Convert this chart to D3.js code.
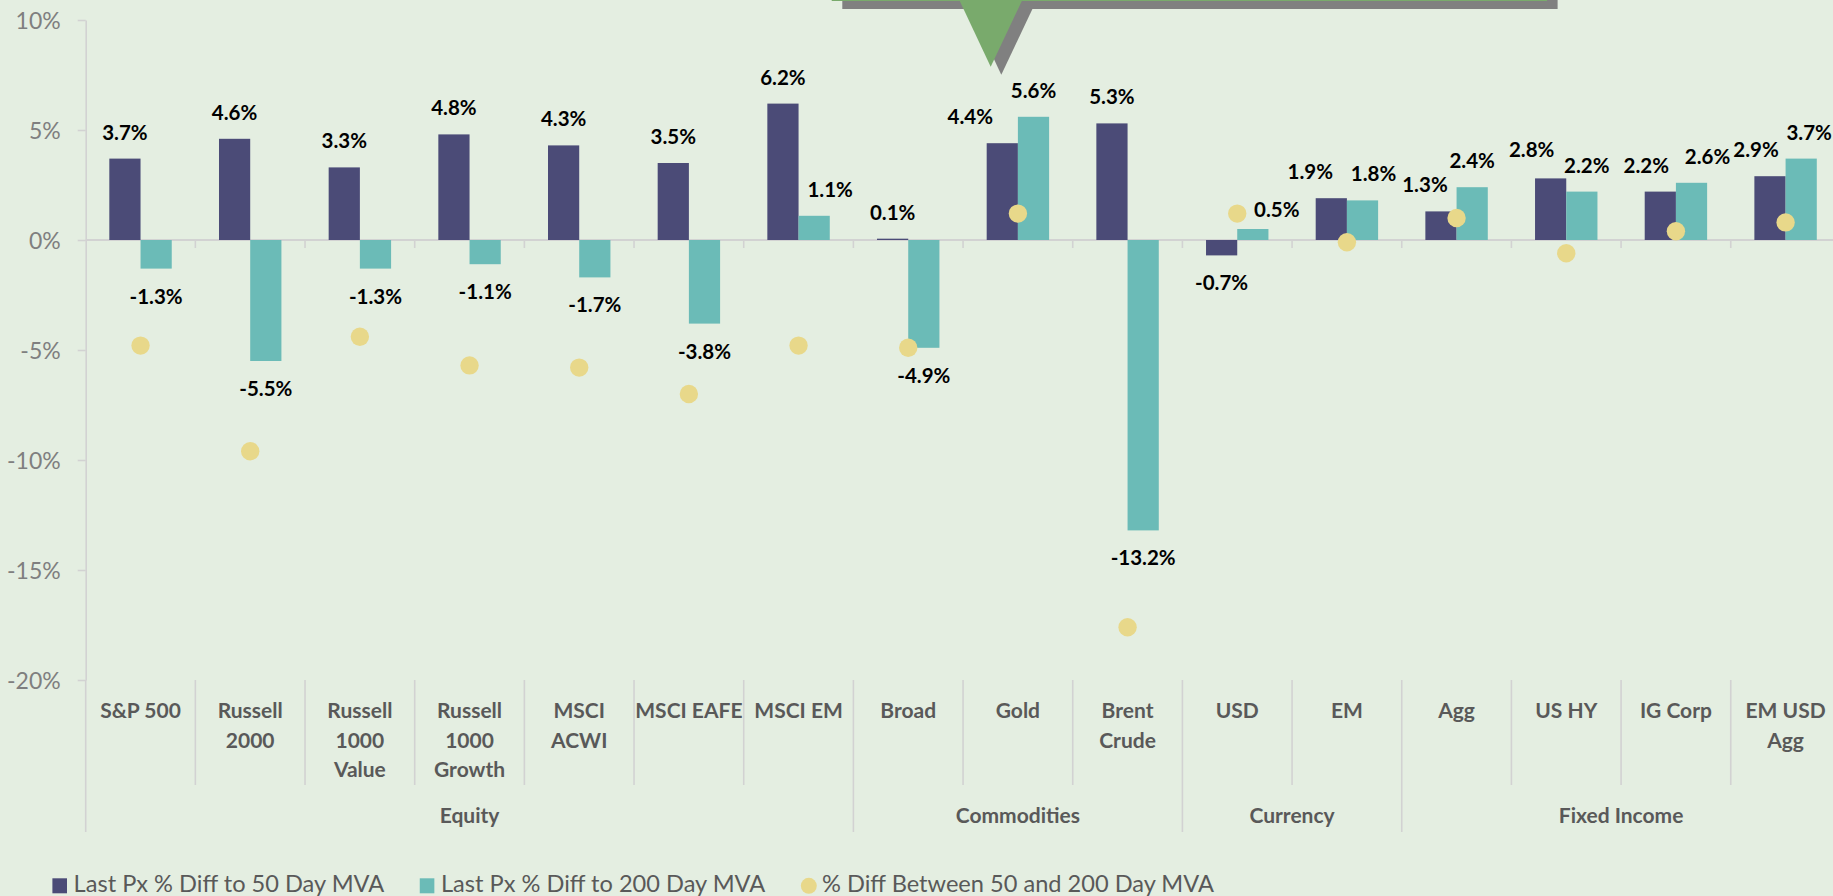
<!DOCTYPE html>
<html>
<head>
<meta charset="utf-8">
<script src="https://cdn.jsdelivr.net/npm/d3@7/dist/d3.min.js"></script>
<style>
  html, body { margin: 0; padding: 0; background: #E4EEE1; overflow: hidden; }
  svg { display: block; }
</style>
</head>
<body>
<svg id="chart" width="1833" height="896"></svg>
<script>
// ---------------- DATA ----------------
const categories = ["S&P 500", "Russell 2000", "Russell 1000 Value", "Russell 1000 Growth", "MSCI ACWI",
  "MSCI EAFE", "MSCI EM", "Broad", "Gold", "Brent Crude", "USD", "EM", "Agg", "US HY", "IG Corp", "EM USD Agg"];
const categoryLines = [["S&P 500"], ["Russell", "2000"], ["Russell", "1000", "Value"], ["Russell", "1000", "Growth"],
  ["MSCI", "ACWI"], ["MSCI EAFE"], ["MSCI EM"], ["Broad"], ["Gold"], ["Brent", "Crude"], ["USD"], ["EM"],
  ["Agg"], ["US HY"], ["IG Corp"], ["EM USD", "Agg"]];
const groupNames = ["Equity", "Commodities", "Currency", "Fixed Income"];
const groupSizes = [7, 3, 2, 4];

const diff50 = [3.7, 4.6, 3.3, 4.8, 4.3, 3.5, 6.2, 0.06, 4.4, 5.3, -0.7, 1.9, 1.3, 2.8, 2.2, 2.9];
const diff200 = [-1.3, -5.5, -1.3, -1.1, -1.7, -3.8, 1.1, -4.9, 5.6, -13.2, 0.5, 1.8, 2.4, 2.2, 2.6, 3.7];
const diff50vs200 = [-4.8, -9.6, -4.4, -5.7, -5.8, -7.0, -4.8, -4.9, 1.2, -17.6, 1.2, -0.1, 1.0, -0.6, 0.4, 0.8];

const yTicks = [-20, -15, -10, -5, 0, 5, 10];
const seriesNames = ["Last Px % Diff to 50 Day MVA", "Last Px % Diff to 200 Day MVA", "% Diff Between 50 and 200 Day MVA"];

// ---------------- LAYOUT / STYLE ----------------
const colors = { s50: "#4B4B77", s200: "#6BBBB7", dot: "#E8D88A", bg: "#E4EEE1",
  grid: "#D2D2D2", tick: "#7F7F7F", cat: "#595959", label: "#000000" };
const FONT = "Lato, 'Open Sans', sans-serif";
// manual label nudges (px) used in the original to avoid overlaps: index -> [dx, dy]
const nudge50 = { 8: [-32, 0], 11: [-21, 0], 12: [-16, 0], 13: [-19, -2], 14: [-14, 0], 15: [-14, 0] };
const nudge200 = { 6: [16, 0], 10: [24, 7], 11: [11, 0], 13: [5, 0], 14: [16, 0], 15: [8, 0] };

const svg = d3.select("#chart");
svg.append("rect").attr("width", 1833).attr("height", 896).attr("fill", colors.bg);

const plotLeft = 85.7, catW = 109.67;
const x0 = d3.scaleBand().domain(categories).range([plotLeft, plotLeft + catW * categories.length]).padding(0);
const x1 = d3.scaleBand().domain(["s50", "s200"]).range([0, x0.bandwidth()]).paddingInner(0).paddingOuter(0.757);
const y = d3.scaleLinear().domain([-20, 10]).range([680, 20]);

const plotRight = x0.range()[1];
const labelTop = y(-20);
const innerSepBottom = 785, groupSepBottom = 832;

// ---- callout decoration at the top (partially off-canvas) ----
const deco = svg.append("g");
function callout(g, dx, dy, fill) {
  g.append("rect").attr("x", 831.7 + dx).attr("y", -60 + dy).attr("width", 715.3).attr("height", 61).attr("fill", fill);
  g.append("path").attr("d", `M${959.3 + dx},${0 + dy}L${1022.3 + dx},${0 + dy}L${990.7 + dx},${66.7 + dy}Z`).attr("fill", fill);
}
callout(deco, 10.6, 8, "#808080");
callout(deco, 0, 0, "#79AA6C");

// ---- Y axis ----
const yAxis = d3.axisLeft(y).tickValues(yTicks).tickFormat(d => d + "%").tickSize(8).tickSizeOuter(0).tickPadding(17);
const gy = svg.append("g").attr("transform", `translate(${plotLeft},0)`).call(yAxis);
gy.select(".domain").attr("stroke", colors.grid).attr("stroke-width", 1.6);
gy.selectAll(".tick line").attr("stroke", colors.grid).attr("stroke-width", 1.6);
gy.selectAll(".tick text").attr("fill", colors.tick).attr("font-family", FONT).attr("font-size", 23)
  .attr("dy", "0.35em");

// extension of y-axis line into the label area
svg.append("line").attr("x1", plotLeft).attr("x2", plotLeft).attr("y1", y(-20)).attr("y2", groupSepBottom)
  .attr("stroke", colors.grid).attr("stroke-width", 1.6);

// ---- zero line with category boundary ticks ----
svg.append("line").attr("x1", plotLeft).attr("x2", plotRight).attr("y1", y(0)).attr("y2", y(0))
  .attr("stroke", colors.grid).attr("stroke-width", 2.2);
const boundaries = categories.map(c => x0(c)).concat([plotRight]);
svg.append("g").selectAll("line").data(boundaries.slice(1)).join("line")
  .attr("x1", d => d).attr("x2", d => d).attr("y1", y(0)).attr("y2", y(0) + 8)
  .attr("stroke", colors.grid).attr("stroke-width", 1.6);

// ---- category separators in label area ----
const groupStarts = [];
{ let acc = 0; groupSizes.forEach(s => { groupStarts.push(acc); acc += s; }); groupStarts.push(acc); }
svg.append("g").selectAll("line").data(d3.range(1, categories.length + 1)).join("line")
  .attr("x1", i => boundaries[i]).attr("x2", i => boundaries[i])
  .attr("y1", labelTop)
  .attr("y2", i => groupStarts.includes(i) ? groupSepBottom : innerSepBottom)
  .attr("stroke", colors.grid).attr("stroke-width", 1.6);

// ---- bars ----
const gBars = svg.append("g");
function barRect(sel, key, vals, col) {
  sel.selectAll("rect." + key).data(categories).join("rect").attr("class", key)
    .attr("x", (c) => x0(c) + x1(key))
    .attr("width", x1.bandwidth())
    .attr("y", (c, i) => y(Math.max(0, vals[i])))
    .attr("height", (c, i) => Math.abs(y(vals[i]) - y(0)))
    .attr("fill", col);
}
barRect(gBars, "s50", diff50, colors.s50);
barRect(gBars, "s200", diff200, colors.s200);

// ---- dots ----
svg.append("g").selectAll("circle").data(categories).join("circle")
  .attr("cx", c => x0(c) + x0.bandwidth() / 2)
  .attr("cy", (c, i) => y(diff50vs200[i]))
  .attr("r", 9.2)
  .attr("fill", colors.dot);

// ---- data labels ----
const fmt = v => v.toFixed(1) + "%";
function dataLabels(key, vals, nudge) {
  svg.append("g").selectAll("text").data(categories).join("text")
    .attr("x", (c, i) => x0(c) + x1(key) + x1.bandwidth() / 2 + (nudge[i] ? nudge[i][0] : 0))
    .attr("y", (c, i) => (vals[i] >= 0 ? y(vals[i]) - 19 : y(vals[i]) + 35) + (nudge[i] ? nudge[i][1] : 0))
    .attr("text-anchor", "middle")
    .attr("font-family", FONT).attr("font-weight", 700).attr("font-size", 20.5)
    .attr("fill", colors.label)
    .text((c, i) => fmt(vals[i]));
}
dataLabels("s50", diff50, nudge50);
dataLabels("s200", diff200, nudge200);

// ---- category labels ----
const lineBaselines = [718, 748, 777];
const gCat = svg.append("g").attr("font-family", FONT).attr("font-weight", 700).attr("font-size", 21)
  .attr("fill", colors.cat).attr("text-anchor", "middle");
categories.forEach((c, i) => {
  const t = gCat.append("text").attr("x", x0(c) + x0.bandwidth() / 2);
  categoryLines[i].forEach((ln, k) => t.append("tspan").attr("x", x0(c) + x0.bandwidth() / 2).attr("y", lineBaselines[k]).text(ln));
});

// ---- group labels ----
groupNames.forEach((g, gi) => {
  const a = boundaries[groupStarts[gi]], b = boundaries[groupStarts[gi + 1]];
  gCat.append("text").attr("x", (a + b) / 2).attr("y", 822.5).text(g);
});

// ---- legend ----
const gLeg = svg.append("g").attr("font-family", FONT).attr("font-size", 23.6).attr("fill", colors.cat);
let lx = 52.4;
const legendMarkers = [colors.s50, colors.s200, colors.dot];
seriesNames.forEach((name, i) => {
  if (i < 2) {
    gLeg.append("rect").attr("x", lx).attr("y", 878.3).attr("width", 14.6).attr("height", 15).attr("fill", legendMarkers[i]);
  } else {
    gLeg.append("circle").attr("cx", lx + 8).attr("cy", 885.8).attr("r", 8).attr("fill", legendMarkers[i]);
  }
  const t = gLeg.append("text").attr("x", lx + 21.2).attr("y", 892.3).text(name);
  const w = t.node().getComputedTextLength();
  lx = lx + 21.2 + w + 35.5;
});
</script>
</body>
</html>
